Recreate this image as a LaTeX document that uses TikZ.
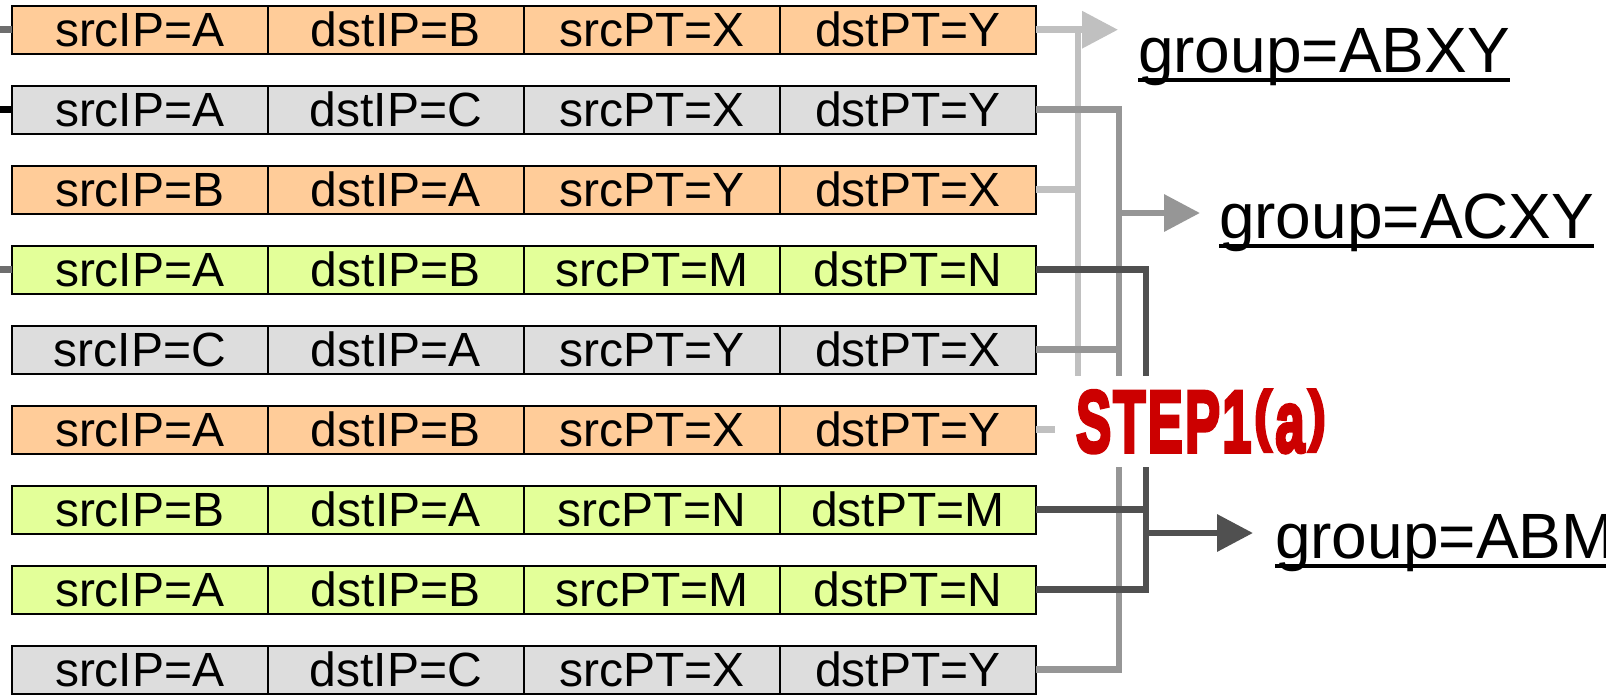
\documentclass[tikz,border=0pt]{standalone}
\usepackage{fontspec}
\setmainfont{Liberation Sans}
\newfontfamily\stepfont[FakeBold=4.5, LetterSpace=4]{Liberation Sans}
\usetikzlibrary{arrows.meta}

\definecolor{cellOrange}{HTML}{FFCC99}
\definecolor{cellGray}{HTML}{DDDDDD}
\definecolor{cellGreen}{HTML}{E3FF99}
\definecolor{lineLight}{HTML}{C0C0C0}
\definecolor{lineMid}{HTML}{969696}
\definecolor{lineDark}{HTML}{505050}
\definecolor{stubGray}{HTML}{6E6E6E}
\definecolor{stepRed}{HTML}{CC0000}

% a parenthesis squeezed to the cap height
\newcommand{\capparen}[1]{\raisebox{0.16em}{\scalebox{1}[0.76]{#1}}}

\tikzset{
  cell/.style={draw=black, line width=1pt, minimum width=128pt, minimum height=24pt,
    inner sep=0pt, outer sep=0pt, font=\fontsize{24pt}{28pt}\selectfont,
    text height=17pt, text depth=0pt},
  wire/.style={line width=3.3pt},
  tip/.style={-{Triangle[length=18pt,width=18pt]}},
  grp/.style={font=\fontsize{32pt}{38pt}\selectfont, inner sep=0pt, outer sep=0pt, anchor=base west},
  uline/.style={line width=1.8pt},
  steplabel/.style={fill=white, inner sep=0pt, minimum width=146pt, minimum height=45.5pt,
    text=stepRed, text height=30.4pt, text depth=0pt},
}

\begin{document}
\begin{tikzpicture}[x=0.5pt, y=-0.5pt]
\useasboundingbox (0,0) rectangle (1606,697);

% flow records: one row of four fields each
\foreach \k/\fc/\a/\b/\c/\d in {
  1/cellOrange/A/B/X/Y,
  2/cellGray/A/C/X/Y,
  3/cellOrange/B/A/Y/X,
  4/cellGreen/A/B/M/N,
  5/cellGray/C/A/Y/X,
  6/cellOrange/A/B/X/Y,
  7/cellGreen/B/A/N/M,
  8/cellGreen/A/B/M/N,
  9/cellGray/A/C/X/Y}{
  \pgfmathsetmacro\yc{29.7+80*(\k-1)}
  \node[cell, fill=\fc] (row\k-1) at (139.7,\yc) {srcIP=\a};
  \node[cell, fill=\fc] (row\k-2) at (395.7,\yc) {dstIP=\b};
  \node[cell, fill=\fc] (row\k-3) at (651.7,\yc) {srcPT=\c};
  \node[cell, fill=\fc] (row\k-4) at (907.7,\yc) {dstPT=\d};
}

% group labels
\node[grp] (gABXY) at (1138,72) {group=ABXY};
\node[grp] (gACXY) at (1219,238) {group=ACXY};
\node[grp] (gABM) at (1275,558) {group=ABM};
\foreach \g in {gABXY,gACXY,gABM}
  \draw[uline] ([yshift=-4pt]\g.base west) -- ([yshift=-4pt]\g.base east);

% bus positions and arrow tips
\coordinate (leftEdge) at (0,0);
\coordinate (busL) at (1078,0);
\coordinate (busM) at (1119,0);
\coordinate (busD) at (1146,0);
\coordinate (tipABXY) at (1118,29.7);
\coordinate (tipACXY) at (1200,213);
\coordinate (tipABM) at (1253,533);

% stubs entering from the left
\draw[wire, stubGray] (row1-1.west) -- (row1-1.west -| leftEdge);
\draw[wire, black] (row2-1.west) -- (row2-1.west -| leftEdge);
\draw[wire, stubGray] (row4-1.west) -- (row4-1.west -| leftEdge);

% group ABXY
\draw[wire, lineLight, tip] (row1-4.east) -- (tipABXY);
\draw[wire, lineLight] (row1-4.east -| busL) -- (row6-4.east -| busL) -- (row6-4.east);
\draw[wire, lineLight] (row3-4.east) -- (row3-4.east -| busL);

% group ACXY
\draw[wire, lineMid] (row2-4.east) -- (row2-4.east -| busM) -- (row9-4.east -| busM) -- (row9-4.east);
\draw[wire, lineMid] (row5-4.east) -- (row5-4.east -| busM);
\draw[wire, lineMid, tip] (busM |- tipACXY) -- (tipACXY);

% group ABMN
\draw[wire, lineDark] (row4-4.east) -- (row4-4.east -| busD) -- (row8-4.east -| busD) -- (row8-4.east);
\draw[wire, lineDark] (row7-4.east) -- (row7-4.east -| busD);
\draw[wire, lineDark, tip] (busD |- tipABM) -- (tipABM);

% step caption
\node[steplabel] (step) at (1201,421.5)
  {\scalebox{0.62}[1.03]{\stepfont\bfseries\fontsize{42.5pt}{50pt}\selectfont
    STEP1\kern.05em\capparen{(}\kern.07em a\kern.07em\capparen{)}}};
\end{tikzpicture}
\end{document}
